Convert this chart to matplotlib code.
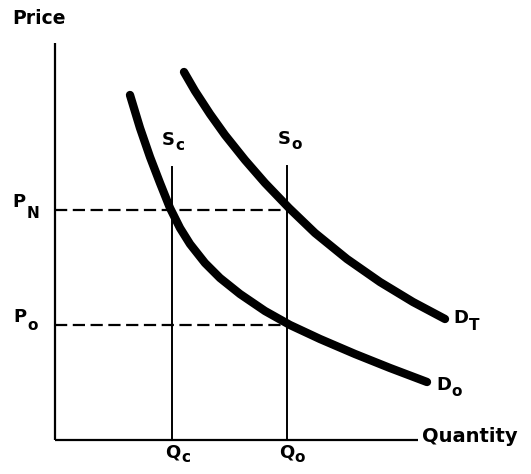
import matplotlib.pyplot as plt

# coordinates: origin at the corner of the axes, units ~ pixels of the sketch
p_new = 230
p_old = 115
q_c = 117
q_o = 232

# demand curves
d0_q = [75, 85, 95, 105, 115, 125, 135, 150, 165, 185, 210, 235, 265, 300, 335, 372]
d0_p = [345, 312, 283, 257, 232, 212, 196, 177, 162, 146, 129, 115, 101, 86, 72, 58]
dt_q = [129, 140, 155, 170, 190, 210, 234, 260, 292, 325, 358, 390]
dt_p = [368, 349, 326, 305, 280, 257, 232, 207, 181, 158, 138, 121]

axis_top = 397
axis_right = 363
supply_top = 273

fig = plt.figure(figsize=(5.31, 4.74), dpi=100)
ax = fig.add_axes([0, 0, 1, 1])
ax.set_xlim(-55, 476)
ax.set_ylim(-34, 440)
ax.axis('off')

# axes
ax.plot([0, 0], [0, axis_top], color='black', lw=1.6, solid_capstyle='butt')
ax.plot([0, axis_right], [0, 0], color='black', lw=1.6, solid_capstyle='butt')

# supply lines
ax.plot([q_c, q_c], [0, supply_top], color='black', lw=1.4)
ax.plot([q_o, q_o], [0, supply_top + 1], color='black', lw=1.4)

# price levels
dash = dict(color='black', lw=1.6, dashes=(5.5, 2.5))
ax.plot([0, q_o], [p_new, p_new], **dash)
ax.plot([0, q_o], [p_old, p_old], **dash)

# demand curves
curve = dict(color='black', lw=6, solid_capstyle='round', solid_joinstyle='round')
ax.plot(d0_q, d0_p, **curve)
ax.plot(dt_q, dt_p, **curve)

font = dict(family='DejaVu Sans', weight='bold', color='black')
ax.text(-43, 422, 'Price', fontsize=13.5, va='center', ha='left', **font)
ax.text(367, 4, 'Quantity', fontsize=14, va='center', ha='left', **font)

def sub_label(x, y, main, sub, sx, sy, size=13, sub_size=11):
    ax.text(x, y, main, fontsize=size, ha='center', va='center', **font)
    ax.text(sx, sy, sub, fontsize=sub_size, ha='center', va='center', **font)

sub_label(-36, 238, 'P', 'N', -22, 227)
sub_label(-35, 123, 'P', 'o', -22, 114)
sub_label(113, 300, 'S', 'c', 125, 295)
sub_label(229, 301, 'S', 'o', 242, 296)
sub_label(406, 122, 'D', 'T', 419, 114)
sub_label(389, 55, 'D', 'o', 402, 48)
sub_label(118, -12, 'Q', 'c', 131, -17)
sub_label(232, -12, 'Q', 'o', 245, -17)

fig.savefig('out.png', dpi=100)
